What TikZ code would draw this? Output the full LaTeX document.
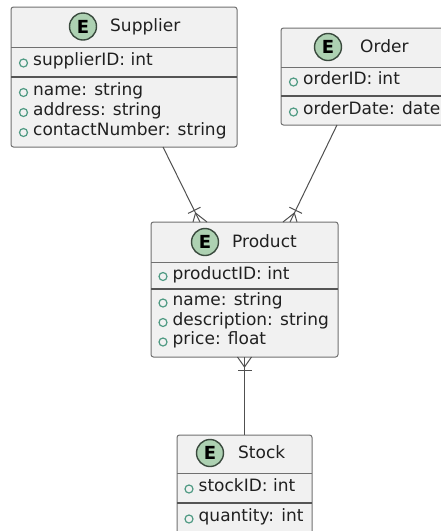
\documentclass[tikz,border=0pt]{standalone}
\usepackage{fontspec}
\setmainfont{DejaVu Sans}
\usetikzlibrary{calc}

\definecolor{boxfill}{HTML}{F1F1F1}
\definecolor{boxline}{HTML}{707070}
\definecolor{sepline}{HTML}{555555}
\definecolor{spotfill}{HTML}{ADD1B2}
\definecolor{spotline}{HTML}{3A4A3E}
\definecolor{fieldmark}{HTML}{4F9A83}
\definecolor{linkcol}{HTML}{505050}
\definecolor{textcol}{HTML}{202020}

\tikzset{
  entbox/.style={draw=boxline, fill=boxfill, rounded corners=2.5pt, line width=1pt,
    inner sep=0, outer sep=0, anchor=north west},
  headsep/.style={draw=boxline, line width=1pt},
  idsep/.style={draw=sepline, line width=1.4pt},
  spot/.style={circle, draw=spotline, fill=spotfill, line width=1.4pt, minimum size=27pt,
    inner sep=0, font=\fontsize{18}{18}\selectfont\bfseries},
  title/.style={anchor=mid west, inner sep=0, font=\fontsize{17}{19}\selectfont, text=textcol},
  attr/.style={anchor=mid west, inner sep=0, font=\fontsize{17}{19}\selectfont, text=textcol},
  field/.style={circle, draw=fieldmark, line width=1.2pt, minimum size=8pt, inner sep=0},
  link/.style={draw=linkcol, line width=1pt},
}

% crow's foot with a bar: #1 = end on the box, #2 = other end of the line
\newcommand\crowsfoot[2]{%
  \draw[link] ($(#1)!10pt!(#2)$) -- ($(#1)+(-7,0)$)
              ($(#1)!10pt!(#2)$) -- ($(#1)+(7,0)$);
  \draw[link] ($($(#1)!13pt!(#2)$)!7pt!90:(#2)$) -- ($($(#1)!13pt!(#2)$)!7pt!-90:(#2)$);
}

\begin{document}
\begin{tikzpicture}[x=1pt, y=-1pt]
\useasboundingbox[fill=white] (0,0) rectangle (441,531);

% ---------- Supplier ----------
\node[entbox, minimum width=226pt, minimum height=140pt] (supplier) at (11,7) {};
\node[spot] (supplierE) at (83,26.5) {E};
\node[title] (supplierT) at (110,29) {Supplier};
\draw[headsep] (supplier.west |- 0,47) -- (supplier.east |- 0,47);
\draw[idsep] (supplier.west |- 0,77) -- (supplier.east |- 0,77);
\node[field] (sf1) at (23.5,63) {};
\node[attr] (sa1) at (33,63) {supplierID: int};
\node[field] (sf2) at (23.5,92.5) {};
\node[attr] (sa2) at (33,92.5) {name: string};
\node[field] (sf3) at (23.5,112.5) {};
\node[attr] (sa3) at (33,112.5) {address: string};
\node[field] (sf4) at (23.5,132.5) {};
\node[attr] (sa4) at (33,132.5) {contactNumber: string};

% ---------- Order ----------
\node[entbox, minimum width=164pt, minimum height=97pt] (order) at (281,28) {};
\node[spot] (orderE) at (328,47) {E};
\node[title] (orderT) at (360,50) {Order};
\draw[headsep] (order.west |- 0,67) -- (order.east |- 0,67);
\draw[idsep] (order.west |- 0,96) -- (order.east |- 0,96);
\node[field] (of1) at (293.5,82) {};
\node[attr] (oa1) at (303,82) {orderID: int};
\node[field] (of2) at (293.5,112) {};
\node[attr] (oa2) at (303,112) {orderDate: date};

% ---------- Product ----------
\node[entbox, minimum width=187pt, minimum height=135pt] (product) at (151,222) {};
\node[spot] (productE) at (205,242) {E};
\node[title] (productT) at (232,245) {Product};
\draw[headsep] (product.west |- 0,262) -- (product.east |- 0,262);
\draw[idsep] (product.west |- 0,289) -- (product.east |- 0,289);
\node[field] (pf1) at (163,276.5) {};
\node[attr] (pa1) at (172.5,276.5) {productID: int};
\node[field] (pf2) at (163,303) {};
\node[attr] (pa2) at (172.5,303) {name: string};
\node[field] (pf3) at (163,322.5) {};
\node[attr] (pa3) at (172.5,322.5) {description: string};
\node[field] (pf4) at (163,342) {};
\node[attr] (pa4) at (172.5,342) {price: float};

% ---------- Stock ----------
\node[entbox, minimum width=135pt, minimum height=110pt] (stock) at (177,435) {};
\node[spot] (stockE) at (210,453) {E};
\node[title] (stockT) at (238,456) {Stock};
\draw[headsep] (stock.west |- 0,473) -- (stock.east |- 0,473);
\draw[idsep] (stock.west |- 0,503) -- (stock.east |- 0,503);
\node[field] (kf1) at (189,489) {};
\node[attr] (ka1) at (198.5,489) {stockID: int};
\node[field] (kf2) at (189,519) {};
\node[attr] (ka2) at (198.5,519) {quantity: int};

% ---------- relations ----------
\coordinate (supOut) at ($(supplier.south west)+(152,0)$);
\coordinate (prodInA) at ($(product.north west)+(49,0)$);
\coordinate (ordOut) at ($(order.south west)+(56,0)$);
\coordinate (prodInB) at ($(product.north west)+(139,0)$);

\draw[link] (supOut) -- (prodInA);
\crowsfoot{prodInA}{supOut}
\draw[link] (ordOut) -- (prodInB);
\crowsfoot{prodInB}{ordOut}
\draw[link] (product.south) -- (stock.north);
\crowsfoot{product.south}{stock.north}
\end{tikzpicture}
\end{document}
